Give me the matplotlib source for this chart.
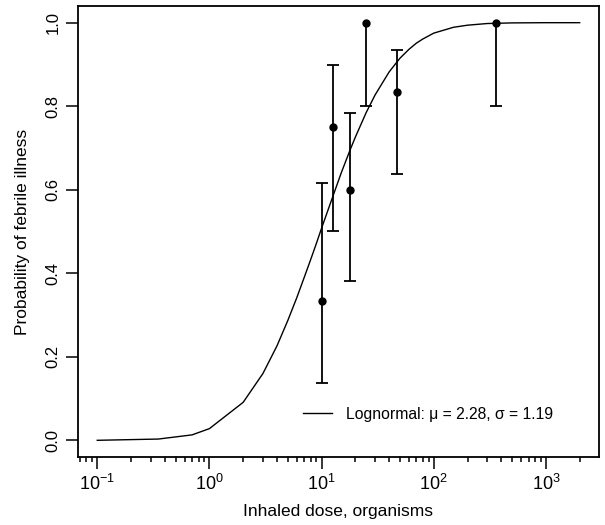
import matplotlib
matplotlib.use("Agg")
import matplotlib.pyplot as plt
from matplotlib.ticker import LogLocator, LogFormatterSciNotation, NullFormatter

plt.rcParams['font.family'] = ['Liberation Sans', 'DejaVu Sans']

# observed dose groups (dose, fraction ill, CI low, CI high)
obs_dose = [10, 12.7, 18, 25, 47, 360]
obs_prob = [0.333, 0.75, 0.60, 1.0, 0.833, 1.0]
obs_low = [0.137, 0.50, 0.382, 0.80, 0.637, 0.80]
obs_high = [0.615, 0.899, 0.784, 1.0, 0.935, 1.0]

# fitted lognormal curve
curve_dose = [0.1, 0.35, 0.7, 1, 2, 3, 4, 5, 6, 7, 8, 9, 10, 12, 15, 18, 20, 25, 30,
              40, 50, 60, 70, 80, 100, 150, 200, 300, 500, 1000, 2000]
curve_prob = [0.000, 0.003, 0.013, 0.028, 0.091, 0.160, 0.226, 0.287, 0.341, 0.390,
              0.433, 0.472, 0.508, 0.568, 0.641, 0.696, 0.726, 0.785, 0.827,
              0.882, 0.915, 0.936, 0.951, 0.961, 0.975, 0.989, 0.994, 0.998,
              0.9995, 1.0, 1.0]
legend_label = "Lognormal: \u03bc = 2.28, \u03c3 = 1.19"

yticks = [0.0, 0.2, 0.4, 0.6, 0.8, 1.0]

fig = plt.figure(figsize=(6.05, 5.25), dpi=100)
ax = fig.add_axes([0.1289, 0.1295, 0.8611, 0.8591])

ax.plot(curve_dose, curve_prob, color='black', lw=1.0, label=legend_label)

# error bars drawn by hand so a zero-length top gets no cap
ax.vlines(obs_dose, obs_low, obs_high, color='black', lw=1.3)
ax.plot(obs_dose, obs_low, '_', color='black', ms=8, mew=1.3)
for d, p, hi in zip(obs_dose, obs_prob, obs_high):
    if hi > p:
        ax.plot([d], [hi], '_', color='black', ms=8, mew=1.3)
ax.plot(obs_dose, obs_prob, 'o', color='black', ms=5)

ax.set_xscale('log')
ax.margins(x=0.04, y=0.04)

ax.xaxis.set_major_locator(LogLocator(base=10, numticks=10))
ax.xaxis.set_major_formatter(LogFormatterSciNotation())
ax.xaxis.set_minor_locator(LogLocator(base=10, subs=range(2, 10), numticks=20))
ax.xaxis.set_minor_formatter(NullFormatter())

ax.set_yticks(yticks)
ax.set_yticklabels(["%.1f" % v for v in yticks], rotation=90, va='center')

ax.tick_params(which='major', direction='out', length=8.5, width=1.1)
ax.tick_params(which='minor', direction='out', length=3.5, width=1.1)
ax.tick_params(axis='x', which='major', pad=4, labelsize=13)
ax.tick_params(axis='y', which='major', pad=4, labelsize=12)
for sp in ax.spines.values():
    sp.set_linewidth(1.3)

ax.set_xlabel("Inhaled dose, organisms", fontsize=12.5, labelpad=7)
ax.set_ylabel("Probability of febrile illness", fontsize=12.5, labelpad=11)

ax.legend(loc='center left', bbox_to_anchor=(0.432, 0.095), frameon=False,
          fontsize=11.3, handlelength=1.85, handletextpad=0.9,
          borderpad=0, borderaxespad=0)

fig.savefig("out.png", dpi=100)
